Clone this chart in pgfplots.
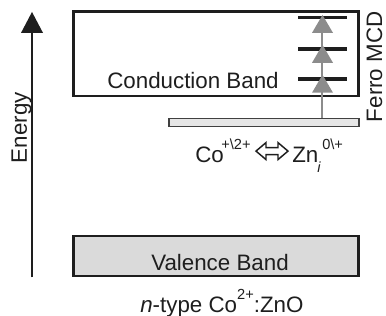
\documentclass[border=0pt]{standalone}
\usepackage{pgfplots}
\pgfplotsset{compat=1.18}
\usepackage{fontspec}
\setmainfont{Liberation Sans}
\definecolor{bandgray}{HTML}{DADADA}
\definecolor{defgray}{HTML}{E6E6E6}
\definecolor{arrgray}{HTML}{8C8C8C}
\definecolor{txt}{HTML}{1E1E1E}
\begin{document}
\begin{tikzpicture}
\begin{axis}[width=289.5pt,height=237pt,scale only axis,
  xmin=0,xmax=386,ymin=0,ymax=316,y dir=reverse,hide axis,clip=false]
% conduction band box
\addplot[draw=txt,line width=1.6pt,fill=white] coordinates {(73.5,11.5) (358.5,11.5) (358.5,96.5) (73.5,96.5)} -- cycle;
% valence band box
\addplot[draw=txt,line width=1.6pt,fill=bandgray] coordinates {(73.5,236.5) (358.5,236.5) (358.5,276.5) (73.5,276.5)} -- cycle;
% defect level bar
\addplot[draw=txt!85,line width=1.2pt,fill=defgray] coordinates {(169,119) (359,119) (359,127) (169,127)} -- cycle;
% Energy axis arrow
\addplot[txt,line width=1.5pt] coordinates {(32,278) (32,30)};
\addplot[draw=none,fill=txt] coordinates {(21,33) (43,33) (32,12)} -- cycle;
% black levels
\addplot[txt,line width=2.8pt] coordinates {(298,17.5) (347,17.5)};
\addplot[txt,line width=2.8pt] coordinates {(298,49) (347,49)};
\addplot[txt,line width=2.8pt] coordinates {(298,79) (347,79)};
% gray arrow
\addplot[arrgray,line width=1.6pt] coordinates {(322,118) (322,25)};
\addplot[draw=none,fill=arrgray] coordinates {(312,33) (333,33) (322.5,15)} -- cycle;
\addplot[draw=none,fill=arrgray] coordinates {(312,63) (333,63) (322.5,45)} -- cycle;
\addplot[draw=none,fill=arrgray] coordinates {(312,93) (333,93) (322.5,75)} -- cycle;
% hollow double arrow
\addplot[draw=txt,line width=1.1pt,fill=white] coordinates {(256,151.5) (266,143) (266,148) (278,148) (278,143) (288,151.5) (278,160) (278,155) (266,155) (266,160)} -- cycle;
% texts
\node[font=\fontsize{16.8}{18}\selectfont,text=txt,anchor=base,inner sep=0pt] at (axis cs:193,89) {Conduction Band};
\node[font=\fontsize{16.8}{18}\selectfont,text=txt,anchor=base,inner sep=0pt] at (axis cs:220,271.5) {Valence Band};
\node[font=\fontsize{16.8}{18}\selectfont,text=txt,anchor=base west,inner sep=0pt] at (axis cs:140,313) {\textit{n}-type Co\raisebox{9.5pt}{\fontsize{11}{11}\selectfont 2+}:ZnO};
\node[font=\fontsize{16.8}{18}\selectfont,text=txt,rotate=90,anchor=base,inner sep=0pt] at (axis cs:27,128) {Energy};
\node[font=\fontsize{16.8}{18}\selectfont,text=txt,rotate=90,anchor=base,inner sep=0pt] at (axis cs:382,67) {Ferro MCD};
\node[font=\fontsize{16.8}{18}\selectfont,text=txt,anchor=base west,inner sep=0pt] at (axis cs:195,163) {Co};
\node[font=\fontsize{11}{11}\selectfont,text=txt,anchor=base west,inner sep=0pt] at (axis cs:221,150) {+\textbackslash2+};
\node[font=\fontsize{16.8}{18}\selectfont,text=txt,anchor=base west,inner sep=0pt] at (axis cs:292,163) {Zn};
\node[font=\fontsize{11}{11}\selectfont,text=txt,anchor=base west,inner sep=0pt] at (axis cs:322,150) {0\textbackslash+};
\node[font=\fontsize{11}{11}\selectfont\itshape,text=txt,anchor=base west,inner sep=0pt] at (axis cs:317,173) {i};
\end{axis}
\pgfresetboundingbox
\useasboundingbox (current axis.south west) rectangle (current axis.north east);
\end{tikzpicture}
\end{document}
